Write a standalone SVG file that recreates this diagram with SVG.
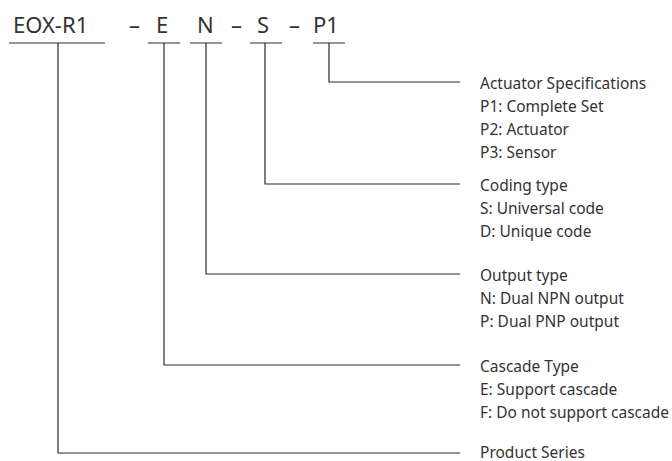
<svg xmlns="http://www.w3.org/2000/svg" width="672" height="461" viewBox="0 0 672 461">
<style>
.ln{stroke:#2a2a2a;stroke-width:1.2;fill:none}
.code{font-family:"Noto Sans","Liberation Sans",sans-serif;font-size:22px;fill:#333}
.t{font-family:"Noto Sans","Liberation Sans",sans-serif;font-size:15.5px;fill:#333}
</style>
<rect width="672" height="461" fill="#fff"/>
<g id="code">
<text class="code" x="13" y="33">EOX-R1</text>
<text class="code" x="129" y="33">–</text>
<text class="code" x="156" y="33">E</text>
<text class="code" x="197" y="33">N</text>
<text class="code" x="231" y="33">–</text>
<text class="code" x="257" y="33">S</text>
<text class="code" x="289" y="33">–</text>
<text class="code" x="313" y="33">P1</text>
</g>
<g id="connectors">
<path class="ln" d="M9 43H105M148 43H180M190 43H222M250 43H282M313 43H345"/>
<path class="ln" d="M58 43V453H460"/>
<path class="ln" d="M164 43V365H460"/>
<path class="ln" d="M206 43V274H460"/>
<path class="ln" d="M265 43V184H460"/>
<path class="ln" d="M329 43V82H460"/>
</g>
<g id="actuator">
<text class="t" x="480" y="88.5">Actuator Specifications</text>
<text class="t" x="480" y="111.5">P1: Complete Set</text>
<text class="t" x="480" y="134.5">P2: Actuator</text>
<text class="t" x="480" y="157.5">P3: Sensor</text>
</g>
<g id="coding">
<text class="t" x="480" y="190.5">Coding type</text>
<text class="t" x="480" y="213.5">S: Universal code</text>
<text class="t" x="480" y="236.5">D: Unique code</text>
</g>
<g id="output">
<text class="t" x="480" y="280.5">Output type</text>
<text class="t" x="480" y="303.5">N: Dual NPN output</text>
<text class="t" x="480" y="326.5">P: Dual PNP output</text>
</g>
<g id="cascade">
<text class="t" x="480" y="371.5">Cascade Type</text>
<text class="t" x="480" y="394.5">E: Support cascade</text>
<text class="t" x="480" y="417.5">F: Do not support cascade</text>
</g>
<g id="series">
<text class="t" x="480" y="457.5">Product Series</text>
</g>
</svg>
